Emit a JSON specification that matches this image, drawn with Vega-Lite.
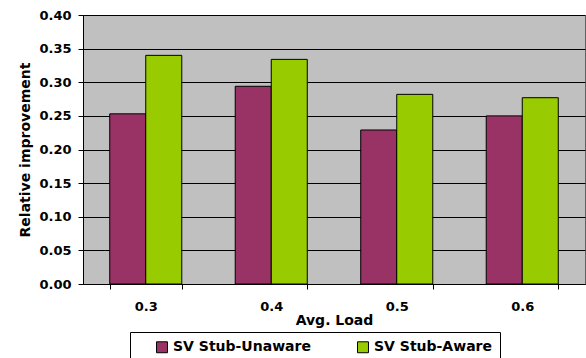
{
  "$schema": "https://vega.github.io/schema/vega-lite/v6.json",
  "autosize": {"type": "none"},
  "padding": {"left": 83, "top": 15, "right": 1, "bottom": 74},
  "width": 502,
  "height": 269,
  "background": "white",
  "config": {
    "view": {"fill": "#C0C0C0", "stroke": "#606060", "strokeWidth": 1},
    "font": "DejaVu Sans",
    "axis": {
      "labelFont": "DejaVu Sans",
      "labelFontWeight": "bold",
      "labelFontSize": 13,
      "labelColor": "black",
      "titleFont": "DejaVu Sans",
      "titleFontWeight": "bold",
      "titleFontSize": 14,
      "titleColor": "black",
      "domainColor": "black",
      "tickColor": "black",
      "tickSize": 5
    }
  },
  "data": {
    "values": [
      {"load": "0.3", "series": "SV Stub-Unaware", "value": 0.253},
      {"load": "0.3", "series": "SV Stub-Aware", "value": 0.340},
      {"load": "0.4", "series": "SV Stub-Unaware", "value": 0.294},
      {"load": "0.4", "series": "SV Stub-Aware", "value": 0.334},
      {"load": "0.5", "series": "SV Stub-Unaware", "value": 0.229},
      {"load": "0.5", "series": "SV Stub-Aware", "value": 0.282},
      {"load": "0.6", "series": "SV Stub-Unaware", "value": 0.250},
      {"load": "0.6", "series": "SV Stub-Aware", "value": 0.277}
    ]
  },
  "mark": {"type": "bar", "stroke": "black", "strokeWidth": 1},
  "encoding": {
    "x": {
      "field": "load",
      "type": "nominal",
      "scale": {"paddingInner": 0.426, "paddingOuter": 0.213},
      "axis": {
        "title": "Avg. Load",
        "labelAngle": 0,
        "tickBand": "extent",
        "labelPadding": 11,
        "titlePadding": 0,
        "grid": false
      }
    },
    "xOffset": {"field": "series", "sort": ["SV Stub-Unaware", "SV Stub-Aware"]},
    "y": {
      "field": "value",
      "type": "quantitative",
      "scale": {"domain": [0, 0.4], "nice": false},
      "axis": {
        "title": "Relative improvement",
        "values": [0, 0.05, 0.1, 0.15, 0.2, 0.25, 0.3, 0.35, 0.4],
        "format": ".2f",
        "grid": true,
        "gridColor": "black",
        "gridOpacity": 1,
        "gridWidth": 1,
        "labelPadding": 7,
        "titlePadding": 6
      }
    },
    "color": {
      "field": "series",
      "type": "nominal",
      "scale": {"domain": ["SV Stub-Unaware", "SV Stub-Aware"], "range": ["#993366", "#99CC00"]},
      "legend": {
        "orient": "none",
        "legendX": 47,
        "legendY": 317,
        "direction": "horizontal",
        "title": null,
        "strokeColor": "black",
        "fillColor": "white",
        "padding": 8,
        "symbolType": "square",
        "symbolSize": 120,
        "symbolStrokeColor": "black",
        "symbolStrokeWidth": 1,
        "symbolOpacity": 1,
        "symbolOffset": 17,
        "labelFont": "DejaVu Sans",
        "labelFontSize": 14,
        "labelFontWeight": "bold",
        "labelColor": "black",
        "columnPadding": 28
      }
    }
  }
}
